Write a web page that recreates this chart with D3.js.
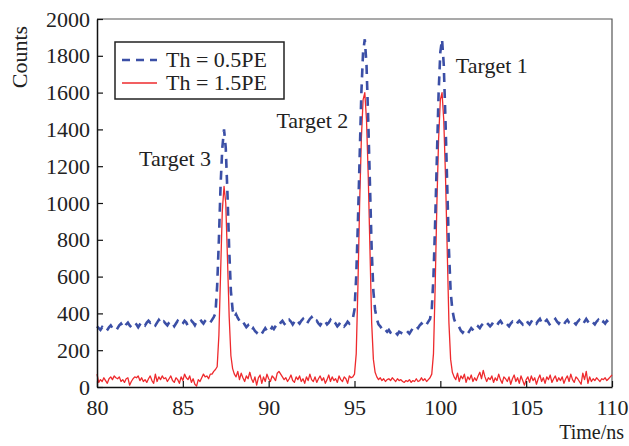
<!DOCTYPE html>
<html>
<head>
<meta charset="utf-8">
<script src="https://cdn.jsdelivr.net/npm/d3@7/dist/d3.min.js"></script>
<style>
  html, body { margin: 0; padding: 0; background: #fff; }
  svg text { font-family: "Liberation Serif", "Times New Roman", serif; fill: #222; }
</style>
</head>
<body>
<svg id="chart" width="629" height="446"></svg>
<script>
// Time grid (ns): 80.0 … 110.0 in 0.1 ns bins
const timeStart = 80, timeStep = 0.1;

// Counts per bin, threshold 0.5 PE
const countsTh05 = [
  330, 320, 310, 325, 315, 300, 310, 325, 335, 320,
  310, 305, 320, 335, 345, 330, 320, 340, 350, 335,
  325, 340, 350, 340, 325, 340, 355, 345, 335, 350,
  360, 350, 360, 345, 335, 350, 365, 350, 340, 355,
  345, 335, 350, 360, 345, 330, 345, 360, 350, 335,
  345, 360, 350, 330, 340, 360, 350, 335, 355, 365,
  370, 355, 345, 360, 370, 360, 350, 365, 380, 400,
  550, 800, 1100, 1300, 1400, 1300, 1050, 750, 520, 420,
  380, 395, 375, 360, 345, 355, 340, 325, 335, 315,
  305, 320, 305, 295, 310, 300, 290, 305, 320, 305,
  295, 310, 325, 315, 330, 345, 335, 350, 360, 345,
  335, 350, 365, 355, 340, 355, 370, 355, 345, 360,
  370, 355, 340, 355, 370, 380, 365, 350, 360, 345,
  335, 350, 365, 355, 340, 350, 365, 350, 335, 345,
  330, 340, 355, 345, 330, 340, 355, 345, 355, 370,
  420, 600, 900, 1250, 1600, 1820, 1890, 1750, 1450, 1100,
  750, 520, 420, 370, 340, 330, 315, 325, 310, 300,
  310, 295, 290, 305, 295, 285, 300, 295, 290, 300,
  310, 300, 290, 305, 320, 315, 330, 320, 335, 345,
  335, 350, 340, 355, 370, 420, 600, 900, 1250, 1600,
  1820, 1890, 1750, 1450, 1100, 750, 520, 420, 370, 345,
  340, 325, 305, 295, 310, 300, 290, 305, 320, 310,
  300, 315, 330, 320, 335, 345, 335, 350, 340, 330,
  340, 355, 345, 335, 350, 360, 345, 335, 350, 340,
  330, 345, 355, 345, 335, 350, 360, 350, 340, 355,
  365, 350, 340, 355, 370, 355, 345, 360, 370, 350,
  340, 355, 365, 350, 335, 345, 360, 370, 355, 345,
  360, 350, 340, 355, 365, 350, 345, 360, 350, 340,
  355, 365, 350, 340, 355, 370, 355, 345, 360, 350,
  340, 355, 365, 350, 340, 355, 345, 360, 350, 340,
  330
];

// Counts per bin, threshold 1.5 PE
const countsTh15 = [
  70, 25, 40, 30, 50, 35, 20, 45, 55, 40,
  60, 50, 45, 55, 30, 40, 25, 45, 50, 10,
  30, 45, 55, 50, 60, 35, 50, 30, 40, 25,
  45, 60, 35, 20, 70, 30, 55, 40, 60, 45,
  50, 30, 45, 60, 35, 25, 50, 40, 20, 55,
  35, 70, 50, 40, 60, 25, 45, 15, 5, 40,
  30, 50, 70, 55, 60, 45, 70, 70, 85, 95,
  110, 280, 620, 960, 1090, 1000, 700, 380, 170, 100,
  70, 55, 85, 40, 75, 50, 30, 60, 45, 80,
  45, 25, 55, 10, 50, 65, 20, 55, 30, 70,
  45, 30, 60, 50, 35, 75, 85, 70, 55, 40,
  50, 30, 45, 65, 35, 25, 55, 40, 60, 30,
  45, 20, 55, 35, 70, 40, 30, 55, 25, 45,
  60, 35, 50, 20, 40, 65, 30, 55, 35, 45,
  25, 60, 40, 30, 55, 45, 20, 60, 50, 55,
  70, 180, 550, 1000, 1350, 1560, 1600, 1450, 1150, 750,
  350, 150, 80, 55, 40, 50, 35, 45, 30, 40,
  45, 35, 50, 40, 30, 45, 35, 40, 30, 25,
  35, 30, 40, 25, 35, 30, 45, 30, 35, 50,
  35, 45, 30, 40, 50, 70, 180, 550, 1000, 1350,
  1560, 1600, 1450, 1150, 750, 350, 150, 80, 55, 40,
  75, 30, 60, 45, 70, 25, 55, 40, 65, 30,
  50, 35, 60, 80, 45, 90, 55, 30, 50, 40,
  60, 25, 50, 35, 70, 40, 20, 55, 45, 30,
  55, 15, 45, 65, 30, 50, 20, 60, 35, 10,
  40, 55, 25, 60, 35, 50, 15, 45, 65, 30,
  50, 20, 55, 40, 65, 25, 45, 60, 30, 50,
  35, 55, 20, 45, 60, 30, 70, 40, 25, 55,
  45, 30, 15, 75, 40, 85, 20, 55, 30, 45,
  35, 50, 40, 30, 45, 40, 50, 35, 45, 55,
  65
];

const xTicks = [80, 85, 90, 95, 100, 105, 110];
const yTicks = [0, 200, 400, 600, 800, 1000, 1200, 1400, 1600, 1800, 2000];

const seriesNames = ["Th = 0.5PE", "Th = 1.5PE"];
const seriesColors = ["#3b4fa6", "#ee2a2d"];

// peak annotations: left edge time and baseline count
const peakLabels = ["Target 3", "Target 2", "Target 1"];
const peakLabelTime = [82.45, 90.45, 100.9];
const peakLabelCount = [1200, 1410, 1705];

const W = 629, H = 446;
const margin = { top: 19, right: 17, bottom: 59, left: 97 };
const iw = W - margin.left - margin.right;
const ih = H - margin.top - margin.bottom;

const svg = d3.select("#chart");
const g = svg.append("g").attr("transform", `translate(${margin.left},${margin.top})`);

const x = d3.scaleLinear().domain([80, 110]).range([0, iw]);
const y = d3.scaleLinear().domain([0, 2000]).range([ih, 0]);

const toPoints = arr => arr.map((v, i) => [timeStart + i * timeStep, v]);

const line = d3.line().x(d => x(d[0])).y(d => y(d[1]));

// frame (top and right)
g.append("path")
  .attr("d", `M0,0H${iw}V${ih}`)
  .attr("fill", "none")
  .attr("stroke", "#555")
  .attr("stroke-width", 1.2);

// series
g.append("path")
  .datum(toPoints(countsTh15))
  .attr("d", line)
  .attr("fill", "none")
  .attr("stroke", seriesColors[1])
  .attr("stroke-width", 1.3)
  .attr("stroke-linejoin", "round");

g.append("path")
  .datum(toPoints(countsTh05))
  .attr("d", line)
  .attr("fill", "none")
  .attr("stroke", seriesColors[0])
  .attr("stroke-width", 2.6)
  .attr("stroke-dasharray", "9,7");

// axes
const xAxis = d3.axisBottom(x).tickValues(xTicks).tickSizeInner(-6).tickSizeOuter(0).tickPadding(12);
const yAxis = d3.axisLeft(y).tickValues(yTicks).tickFormat(d3.format("d"))
  .tickSizeInner(-6).tickSizeOuter(0).tickPadding(7);

const gx = g.append("g").attr("transform", `translate(0,${ih})`).call(xAxis);
const gy = g.append("g").call(yAxis);

[gx, gy].forEach(a => {
  a.select(".domain").attr("stroke", "#111").attr("stroke-width", 1.5);
  a.selectAll(".tick line").attr("stroke", "#111").attr("stroke-width", 1.2);
  a.selectAll(".tick text")
    .style("font-family", '"Liberation Serif", serif')
    .style("font-size", "22px")
    .attr("fill", "#222");
});

// axis titles
svg.append("text")
  .attr("transform", "translate(27,57) rotate(-90)")
  .attr("text-anchor", "middle")
  .style("font-size", "22px")
  .text("Counts");

svg.append("text")
  .attr("x", 624).attr("y", 439)
  .attr("text-anchor", "end")
  .style("font-size", "20px")
  .text("Time/ns");

// peak annotations
peakLabels.forEach((t, i) => {
  g.append("text")
    .attr("x", x(peakLabelTime[i]))
    .attr("y", y(peakLabelCount[i]))
    .attr("text-anchor", "start")
    .style("font-size", "22px")
    .text(t);
});

// legend
const lg = svg.append("g").attr("transform", "translate(115,42)");
lg.append("rect")
  .attr("width", 169).attr("height", 57)
  .attr("fill", "#fff")
  .attr("stroke", "#222")
  .attr("stroke-width", 1.5);

seriesNames.forEach((name, i) => {
  const yy = 18 + i * 23;
  lg.append("line")
    .attr("x1", 7).attr("x2", 42)
    .attr("y1", yy).attr("y2", yy)
    .attr("stroke", seriesColors[i])
    .attr("stroke-width", i === 0 ? 2.6 : 1.3)
    .attr("stroke-dasharray", i === 0 ? "8,6" : null);
  lg.append("text")
    .attr("x", 51).attr("y", yy + 7)
    .style("font-size", "22px")
    .text(name);
});
</script>
</body>
</html>
